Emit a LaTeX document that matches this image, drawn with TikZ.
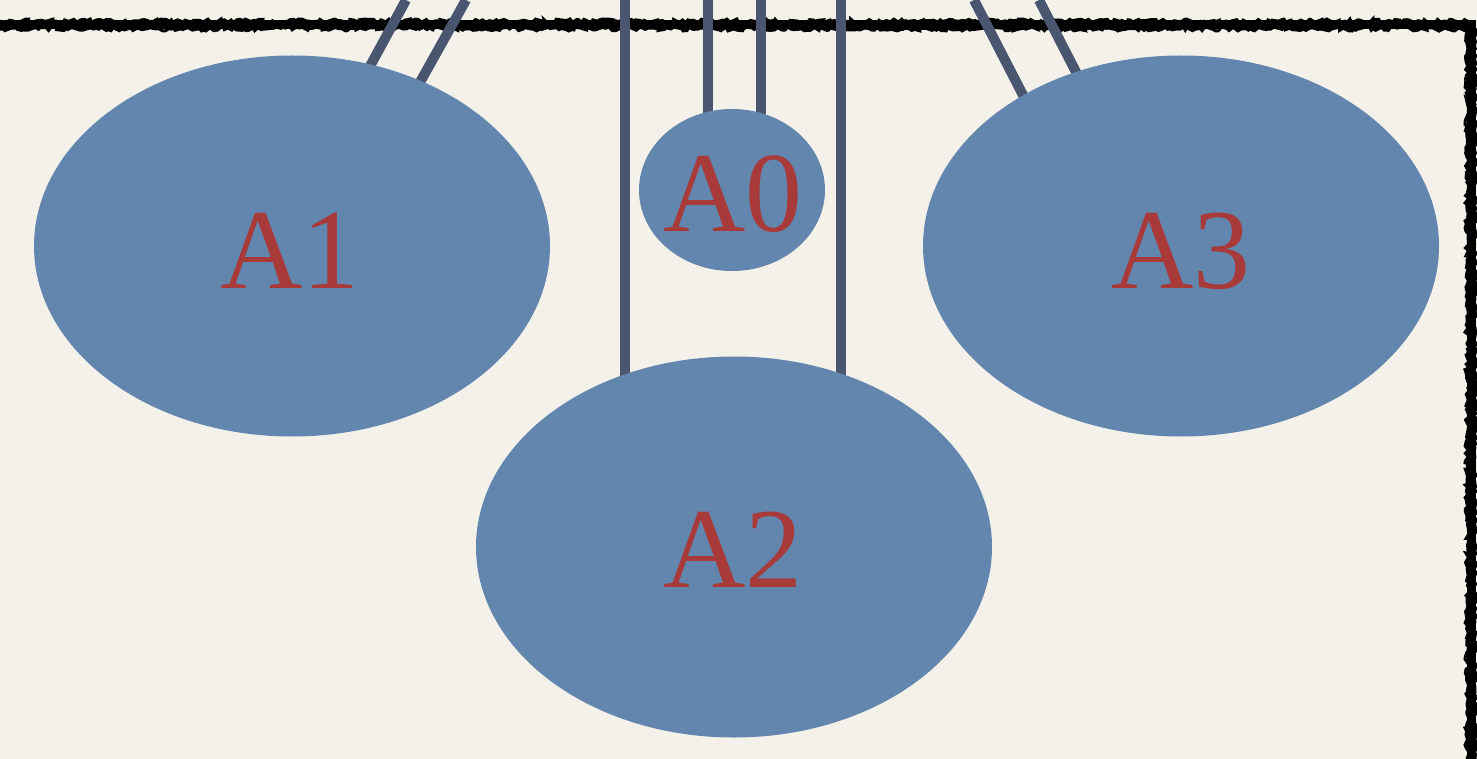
\documentclass[tikz,border=0pt]{standalone}
\usepackage{fontspec}
\setmainfont{Liberation Serif}
\usetikzlibrary{shapes.geometric,decorations.pathmorphing,calc}
\definecolor{paper}{HTML}{F4F1EB}
\definecolor{blob}{HTML}{6286AD}
\definecolor{wire}{HTML}{4A5670}
\definecolor{tag}{HTML}{A83A3A}
\pgfdeclarelayer{bg}
\pgfdeclarelayer{wires}
\pgfsetlayers{bg,wires,main}
\tikzset{
  blobnode/.style={ellipse, fill=blob, inner sep=0pt, outer sep=0pt},
  bigblob/.style={blobnode, minimum width=516pt, minimum height=381pt},
  tagtext/.style={text=tag, anchor=base, inner sep=0pt, font=\fontsize{114}{126}\selectfont},
  wireline/.style={draw=wire, line width=10pt, line cap=butt},
  frameline/.style={draw=black, line width=9pt, line join=miter},
  roughline/.style={draw=black, line width=3pt,
    decorate, decoration={random steps, segment length=3pt, amplitude=2pt}},
}
\begin{document}
\begin{tikzpicture}[x=1pt, y=-1pt]
  \useasboundingbox (0,0) rectangle (1477,759);

  % ellipses
  \node[bigblob] (A1) at (292,246) {};
  \node[bigblob] (A3) at (1181,246) {};
  \node[bigblob] (A2) at (734,547) {};
  \node[blobnode, minimum width=186pt, minimum height=162pt] (A0) at (732,190) {};

  % labels
  \node[tagtext] (t1) at (290,288) {A1};
  \node[tagtext] (t0) at (733,232) {A0};
  \node[tagtext] (t3) at (1181,288) {A3};
  \node[tagtext] (t2) at (733,587) {A2};

  % paper and frame
  \begin{pgfonlayer}{bg}
    \fill[paper] (0,0) rectangle (1477,759);
    \draw[frameline] (0,25) -- (1471,25) -- (1471,759);
    \draw[roughline] (0,21) -- (1467,21) -- (1467,759);
    \draw[roughline] (0,29) -- (1475,29) -- (1475,759);
    \draw[roughline] (0,25) -- (1471,25) -- (1471,759);
  \end{pgfonlayer}

  % free ends of the wires at the top edge
  \coordinate (w1) at (406,0);
  \coordinate (w2) at (466,0);
  \coordinate (w3) at (625,0);
  \coordinate (w4) at (708,0);
  \coordinate (w5) at (761,0);
  \coordinate (w6) at (841,0);
  \coordinate (w7) at (974,0);
  \coordinate (w8) at (1039,0);

  \begin{pgfonlayer}{wires}
    \draw[wireline] (w1) -- ($(A1.center)+(77,-178)$);
    \draw[wireline] (w2) -- ($(A1.center)+(127,-162)$);
    \draw[wireline] (w3) -- ($(A2.center)+(-109,-168)$);
    \draw[wireline] (w4) -- ($(A0.center)+(-24,-74)$);
    \draw[wireline] (w5) -- ($(A0.center)+(29,-73)$);
    \draw[wireline] (w6) -- ($(A2.center)+(107,-169)$);
    \draw[wireline] (w7) -- ($(A3.center)+(-156,-147)$);
    \draw[wireline] (w8) -- ($(A3.center)+(-104,-172)$);
  \end{pgfonlayer}
\end{tikzpicture}
\end{document}
